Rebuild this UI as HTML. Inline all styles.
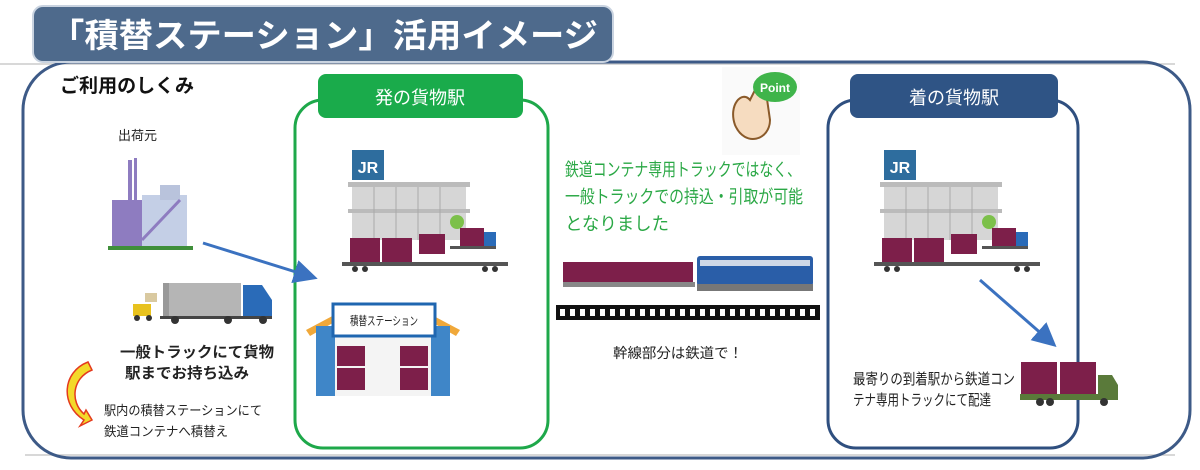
<!DOCTYPE html>
<html><head><meta charset="utf-8"><style>
html,body{margin:0;padding:0;background:#fff;}
body{width:1200px;height:470px;overflow:hidden;position:relative;font-family:"Liberation Sans","Noto Sans CJK JP",sans-serif;}
svg{position:absolute;left:0;top:0;}
</style></head><body>
<svg width="1200" height="470" viewBox="0 0 1200 470" xmlns="http://www.w3.org/2000/svg" font-family="Liberation Sans, Noto Sans CJK JP, sans-serif">
<defs>
<marker id="ah" markerWidth="8" markerHeight="8" refX="6" refY="4" orient="auto" markerUnits="strokeWidth"><path d="M0,0 L8,4 L0,8 Z" fill="#3b72c0"/></marker>
</defs>
<line x1="0" y1="64" x2="1175" y2="64" stroke="#ccc" stroke-width="1.5"/>
<line x1="25" y1="455" x2="1175" y2="455" stroke="#ccc" stroke-width="1.5"/>
<rect x="23" y="62" width="1167" height="396" rx="48" fill="none" stroke="#3d5a87" stroke-width="3"/>
<!-- title -->
<rect x="33" y="6" width="580" height="56" rx="10" fill="#4e6a8c" stroke="#c9d3e0" stroke-width="2"/>
<text x="50" y="47" font-size="33" font-weight="bold" fill="#fff" textLength="548" lengthAdjust="spacingAndGlyphs">「積替ステーション」活用イメージ</text>
<text x="60" y="92" font-size="19" font-weight="bold" fill="#111" textLength="134" lengthAdjust="spacingAndGlyphs">ご利用のしくみ</text>
<!-- green box -->
<rect x="295" y="100" width="253" height="348" rx="28" fill="none" stroke="#1ea84a" stroke-width="3"/>
<rect x="318" y="74" width="205" height="44" rx="8" fill="#1aab4b"/>
<text x="420" y="104" font-size="18" fill="#fff" text-anchor="middle">発の貨物駅</text>
<!-- blue box -->
<rect x="828" y="100" width="250" height="348" rx="28" fill="none" stroke="#2f4f7f" stroke-width="3"/>
<rect x="850" y="74" width="208" height="44" rx="8" fill="#2f5485"/>
<text x="954" y="104" font-size="18" fill="#fff" text-anchor="middle">着の貨物駅</text>

<!-- left side -->
<text x="118" y="140" font-size="13" fill="#222">出荷元</text>
<g>
<rect x="108" y="246" width="85" height="4" fill="#3f8f3a"/>
<rect x="112" y="200" width="30" height="46" fill="#8e7cc0"/>
<rect x="128" y="160" width="4" height="45" fill="#8e7cc0"/>
<rect x="134" y="158" width="3" height="45" fill="#8e7cc0"/>
<rect x="142" y="195" width="45" height="51" fill="#c4cfe6"/>
<rect x="160" y="185" width="20" height="15" fill="#b9c3dc"/>
<path d="M142 240 L180 200" stroke="#8e7cc0" stroke-width="3"/>
</g>
<line x1="203" y1="243" x2="312" y2="277" stroke="#3b72c0" stroke-width="3" marker-end="url(#ah)"/>
<!-- truck left -->
<g>
<rect x="163" y="283" width="78" height="34" fill="#b5b5b5"/>
<rect x="163" y="283" width="6" height="34" fill="#999"/>
<path d="M243 285 L262 285 L272 300 L272 318 L243 318 Z" fill="#2a6bb8"/>
<rect x="160" y="316" width="112" height="3" fill="#444"/>
<circle cx="175" cy="320" r="4" fill="#333"/><circle cx="228" cy="320" r="4" fill="#333"/><circle cx="263" cy="320" r="4" fill="#333"/>
<rect x="133" y="304" width="18" height="12" fill="#e8c21e"/>
<rect x="145" y="293" width="12" height="9" fill="#d9c9a0"/>
<circle cx="137" cy="318" r="3" fill="#333"/><circle cx="149" cy="318" r="3" fill="#333"/>
</g>
<text x="120" y="357" font-size="15" font-weight="bold" fill="#222" textLength="154" lengthAdjust="spacingAndGlyphs">一般トラックにて貨物</text>
<text x="125" y="378" font-size="15" font-weight="bold" fill="#222" textLength="124" lengthAdjust="spacingAndGlyphs">駅までお持ち込み</text>
<path d="M88 362 C62 372 60 405 84 420 L80 426 L92 420 L86 410 L84 414 C70 402 72 378 92 370 Z" fill="#f3d92a" stroke="#e43a1e" stroke-width="1.5"/>
<text x="104" y="415" font-size="13" fill="#222" textLength="158" lengthAdjust="spacingAndGlyphs">駅内の積替ステーションにて</text>
<text x="104" y="436" font-size="13" fill="#222" textLength="124" lengthAdjust="spacingAndGlyphs">鉄道コンテナへ積替え</text>

<!-- origin station illustration -->
<g>
<rect x="352" y="150" width="32" height="30" fill="#2e6d9e"/>
<text x="368" y="173" font-size="16" font-weight="bold" fill="#fff" text-anchor="middle">JR</text>
<rect x="348" y="182" width="122" height="5" fill="#bbb"/>
<rect x="352" y="187" width="114" height="22" fill="#d6d6d6"/>
<rect x="348" y="209" width="122" height="4" fill="#bbb"/>
<rect x="352" y="213" width="114" height="27" fill="#d6d6d6"/>
<g stroke="#aaa" stroke-width="1"><line x1="374" y1="187" x2="374" y2="240"/><line x1="396" y1="187" x2="396" y2="240"/><line x1="418" y1="187" x2="418" y2="240"/><line x1="440" y1="187" x2="440" y2="240"/></g>
<circle cx="457" cy="222" r="7" fill="#7cc04a"/>
<rect x="350" y="238" width="30" height="24" fill="#7d1f4a"/>
<rect x="382" y="238" width="30" height="24" fill="#7d1f4a"/>
<rect x="419" y="234" width="26" height="20" fill="#7d1f4a"/>
<rect x="460" y="228" width="24" height="18" fill="#7d1f4a"/>
<rect x="484" y="232" width="12" height="14" fill="#2a6bb8"/>
<rect x="450" y="246" width="46" height="3" fill="#555"/>
<rect x="342" y="262" width="166" height="4" fill="#555"/>
<circle cx="355" cy="269" r="3" fill="#333"/><circle cx="365" cy="269" r="3" fill="#333"/><circle cx="485" cy="269" r="3" fill="#333"/><circle cx="495" cy="269" r="3" fill="#333"/>
</g>
<!-- dest station -->
<g transform="translate(532,0)">
<rect x="352" y="150" width="32" height="30" fill="#2e6d9e"/>
<text x="368" y="173" font-size="16" font-weight="bold" fill="#fff" text-anchor="middle">JR</text>
<rect x="348" y="182" width="122" height="5" fill="#bbb"/>
<rect x="352" y="187" width="114" height="22" fill="#d6d6d6"/>
<rect x="348" y="209" width="122" height="4" fill="#bbb"/>
<rect x="352" y="213" width="114" height="27" fill="#d6d6d6"/>
<g stroke="#aaa" stroke-width="1"><line x1="374" y1="187" x2="374" y2="240"/><line x1="396" y1="187" x2="396" y2="240"/><line x1="418" y1="187" x2="418" y2="240"/><line x1="440" y1="187" x2="440" y2="240"/></g>
<circle cx="457" cy="222" r="7" fill="#7cc04a"/>
<rect x="350" y="238" width="30" height="24" fill="#7d1f4a"/>
<rect x="382" y="238" width="30" height="24" fill="#7d1f4a"/>
<rect x="419" y="234" width="26" height="20" fill="#7d1f4a"/>
<rect x="460" y="228" width="24" height="18" fill="#7d1f4a"/>
<rect x="484" y="232" width="12" height="14" fill="#2a6bb8"/>
<rect x="450" y="246" width="46" height="3" fill="#555"/>
<rect x="342" y="262" width="166" height="4" fill="#555"/>
<circle cx="355" cy="269" r="3" fill="#333"/><circle cx="365" cy="269" r="3" fill="#333"/><circle cx="485" cy="269" r="3" fill="#333"/><circle cx="495" cy="269" r="3" fill="#333"/>
</g>
<!-- transfer station -->
<g>
<path d="M306 330 L338 313 L338 320 L310 336 Z" fill="#f0a83a"/>
<path d="M460 330 L428 313 L428 320 L456 336 Z" fill="#f0a83a"/>
<rect x="316" y="326" width="20" height="70" fill="#3f86c8"/>
<rect x="430" y="326" width="20" height="70" fill="#3f86c8"/>
<rect x="335" y="336" width="96" height="60" fill="#f4f4f4"/>
<rect x="337" y="346" width="28" height="20" fill="#7d1f4a"/><rect x="337" y="368" width="28" height="22" fill="#7d1f4a"/>
<rect x="400" y="346" width="28" height="20" fill="#7d1f4a"/><rect x="400" y="368" width="28" height="22" fill="#7d1f4a"/>
<rect x="333" y="304" width="102" height="32" fill="#fff" stroke="#1f66b0" stroke-width="3"/>
<text x="350" y="325" font-size="12" fill="#222" textLength="68" lengthAdjust="spacingAndGlyphs">積替ステーション</text>
</g>

<!-- middle -->
<g>
<rect x="722" y="67" width="78" height="88" fill="#fafafa"/>
<path d="M735 125 C728 105 742 90 750 100 L760 80 C765 75 770 80 766 92 L770 120 C770 140 745 148 735 125 Z" fill="#f6dcc0" stroke="#8a5a2a" stroke-width="2"/>
<ellipse cx="775" cy="87" rx="22" ry="15" fill="#3fb44a"/>
<text x="775" y="92" font-size="12" font-weight="bold" fill="#fff" text-anchor="middle">Point</text>
</g>
<text x="565" y="176" font-size="18" fill="#2aa845" textLength="236" lengthAdjust="spacingAndGlyphs">鉄道コンテナ専用トラックではなく、</text>
<text x="565" y="203" font-size="18" fill="#2aa845" textLength="238" lengthAdjust="spacingAndGlyphs">一般トラックでの持込・引取が可能</text>
<text x="565" y="230" font-size="18" fill="#2aa845" textLength="104" lengthAdjust="spacingAndGlyphs">となりました</text>
<g>
<rect x="563" y="262" width="130" height="21" fill="#7d1f4a"/>
<rect x="563" y="282" width="132" height="5" fill="#888"/>
<rect x="697" y="256" width="116" height="30" rx="3" fill="#2a5ea8"/>
<rect x="700" y="260" width="110" height="6" fill="#cfd8e6"/>
<rect x="697" y="284" width="116" height="7" fill="#777"/>
</g>
<rect x="556" y="305" width="264" height="15" fill="#111"/>
<line x1="560" y1="312.5" x2="818" y2="312.5" stroke="#fff" stroke-width="7" stroke-dasharray="5,5"/>
<text x="613" y="358" font-size="14" fill="#222" textLength="130" lengthAdjust="spacingAndGlyphs">幹線部分は鉄道で！</text>

<!-- right -->
<line x1="980" y1="280" x2="1052" y2="343" stroke="#3b72c0" stroke-width="3" marker-end="url(#ah)"/>
<text x="853" y="384" font-size="15" fill="#222" textLength="162" lengthAdjust="spacingAndGlyphs">最寄りの到着駅から鉄道コン</text>
<text x="853" y="405" font-size="15" fill="#222" textLength="138" lengthAdjust="spacingAndGlyphs">テナ専用トラックにて配達</text>
<g>
<rect x="1021" y="362" width="36" height="32" fill="#7d1f4a"/>
<rect x="1060" y="362" width="36" height="32" fill="#7d1f4a"/>
<path d="M1098 375 L1112 375 L1118 385 L1118 400 L1098 400 Z" fill="#5a7a3a"/>
<rect x="1020" y="394" width="98" height="6" fill="#5a7a3a"/>
<circle cx="1040" cy="402" r="4" fill="#333"/><circle cx="1050" cy="402" r="4" fill="#333"/><circle cx="1104" cy="402" r="4" fill="#333"/>
</g>
</svg>
</body></html>
